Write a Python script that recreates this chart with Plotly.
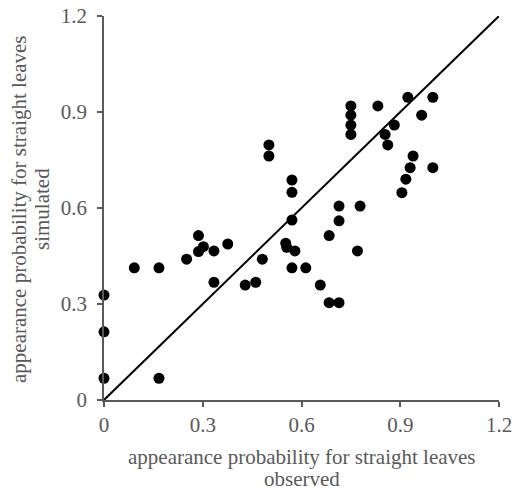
import plotly.graph_objects as go

observed = [0, 0, 0, 0.167, 0.092, 0.167, 0.251, 0.287, 0.287, 0.302, 0.334, 0.334,
            0.376, 0.429, 0.461, 0.481, 0.501, 0.501, 0.552, 0.555, 0.571, 0.571, 0.571,
            0.58, 0.571, 0.613, 0.657, 0.684, 0.714, 0.684, 0.714, 0.714, 0.778, 0.770,
            0.75, 0.75, 0.75, 0.75, 0.832, 0.923, 0.999, 0.965, 0.882, 0.854, 0.862,
            0.939, 0.930, 0.917, 0.905, 0.999]
simulated = [0.328, 0.213, 0.068, 0.068, 0.413, 0.413, 0.44, 0.514, 0.464, 0.479, 0.466, 0.368,
             0.4875, 0.359, 0.368, 0.44, 0.797, 0.7625, 0.49, 0.477, 0.6875, 0.649, 0.5625,
             0.466, 0.413, 0.413, 0.359, 0.304, 0.304, 0.514, 0.606, 0.56, 0.606, 0.466,
             0.919, 0.89, 0.859, 0.830, 0.919, 0.946, 0.946, 0.89, 0.859, 0.830, 0.797,
             0.7625, 0.726, 0.69, 0.648, 0.726]
line_ends = [0, 1.2]
tick_vals = [0, 0.3, 0.6, 0.9, 1.2]
tick_text = ["0", "0.3", "0.6", "0.9", "1.2"]
x_title = ["appearance probability for straight leaves", "observed"]
y_title = ["appearance probability for straight leaves", "simulated"]

fig = go.Figure()
fig.add_trace(go.Scatter(x=line_ends, y=line_ends, mode="lines",
                         line=dict(color="black", width=2), showlegend=False,
                         cliponaxis=False))
fig.add_trace(go.Scatter(x=observed, y=simulated, mode="markers",
                         marker=dict(color="black", size=11), showlegend=False,
                         cliponaxis=False))

font = dict(family="Liberation Serif", size=21, color="#595959")
axis_common = dict(range=[0, 1.2], tickvals=tick_vals, ticktext=tick_text,
                   showgrid=False, zeroline=False, showline=True, linecolor="#595959",
                   linewidth=1.5, ticks="outside", ticklen=5, tickcolor="#595959",
                   tickwidth=1.5, tickfont=font, automargin=False,
                   ticklabeloverflow="allow")
fig.update_layout(
    width=512, height=491,
    margin=dict(l=104, r=13, t=16, b=91),
    plot_bgcolor="white", paper_bgcolor="white",
    font=font,
    xaxis=dict(**axis_common),
    yaxis=dict(**axis_common, ticklabelstandoff=6),
)
for i, txt in enumerate(x_title):
    fig.add_annotation(text=txt, xref="paper", yref="paper", x=0.5, y=0,
                       yshift=-57 - 22 * i, showarrow=False, font=font,
                       xanchor="center", yanchor="middle")
for i, txt in enumerate(y_title):
    fig.add_annotation(text=txt, xref="paper", yref="paper", x=0, y=0.5,
                       xshift=-85 + 23 * i, yshift=-1, showarrow=False, font=font,
                       textangle=-90, xanchor="center", yanchor="middle")
fig.write_html("out.html", config={"displayModeBar": False},
               post_script="document.body.style.margin='0';"
                           "document.body.style.overflow='hidden';")
